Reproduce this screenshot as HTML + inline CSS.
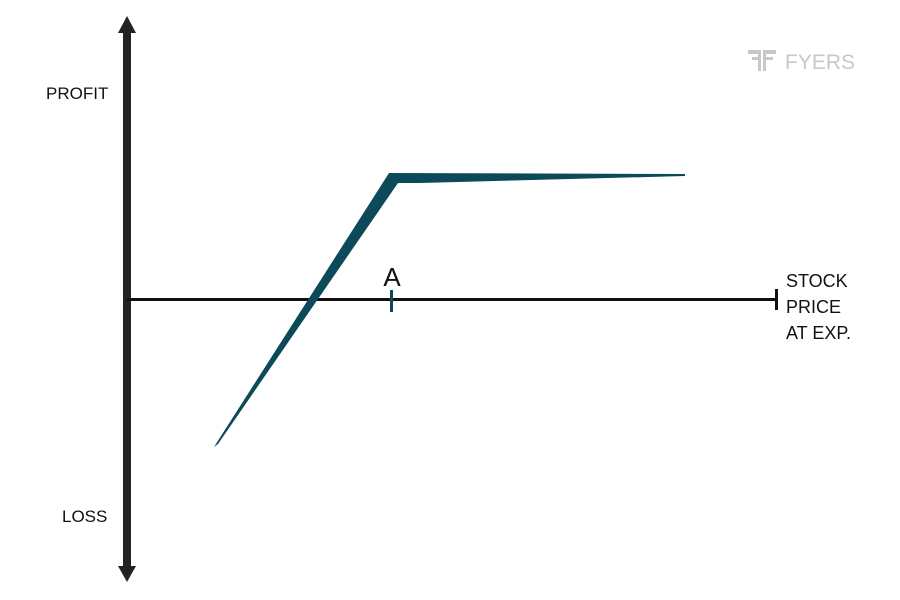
<!DOCTYPE html>
<html><head><meta charset="utf-8"><style>
html,body{margin:0;padding:0;background:#fff;width:900px;height:600px;overflow:hidden}
text{font-family:"Liberation Sans",sans-serif}
</style></head><body>
<svg width="900" height="600" viewBox="0 0 900 600" xmlns="http://www.w3.org/2000/svg">
<rect width="900" height="600" fill="#fff"/>
<rect x="123" y="28" width="8" height="542" fill="#222"/>
<polygon points="127,16 136,33 118,33" fill="#222"/>
<polygon points="127,582 136,566 118,566" fill="#222"/>
<rect x="127" y="298" width="650" height="3" fill="#111"/>
<rect x="775" y="289" width="3" height="21" fill="#111"/>
<polygon points="214,447 389,173 685,174 685,176 420,183 398,183 218,444" fill="#0d4a59"/>
<rect x="390" y="290" width="3" height="22" fill="#0d4a59"/>
<text x="392" y="286" font-size="26" text-anchor="middle" fill="#111">A</text>
<text x="46" y="99" font-size="17" fill="#111">PROFIT</text>
<text x="62" y="522" font-size="17" fill="#111">LOSS</text>
<text x="786" y="287" font-size="18" fill="#111">STOCK</text>
<text x="786" y="313" font-size="18" fill="#111">PRICE</text>
<text x="786" y="339" font-size="18" fill="#111">AT EXP.</text>
<g fill="#c8c8c8">
<rect x="748" y="50" width="13" height="4"/><rect x="752" y="57" width="9" height="3"/><rect x="758" y="50" width="3" height="21"/>
<rect x="763" y="50" width="13" height="4"/><rect x="763" y="57" width="10" height="3"/><rect x="763" y="50" width="3" height="21"/>
</g>
<text x="785" y="69" font-size="21" fill="#c8c8c8">FYERS</text>
</svg>
</body></html>
